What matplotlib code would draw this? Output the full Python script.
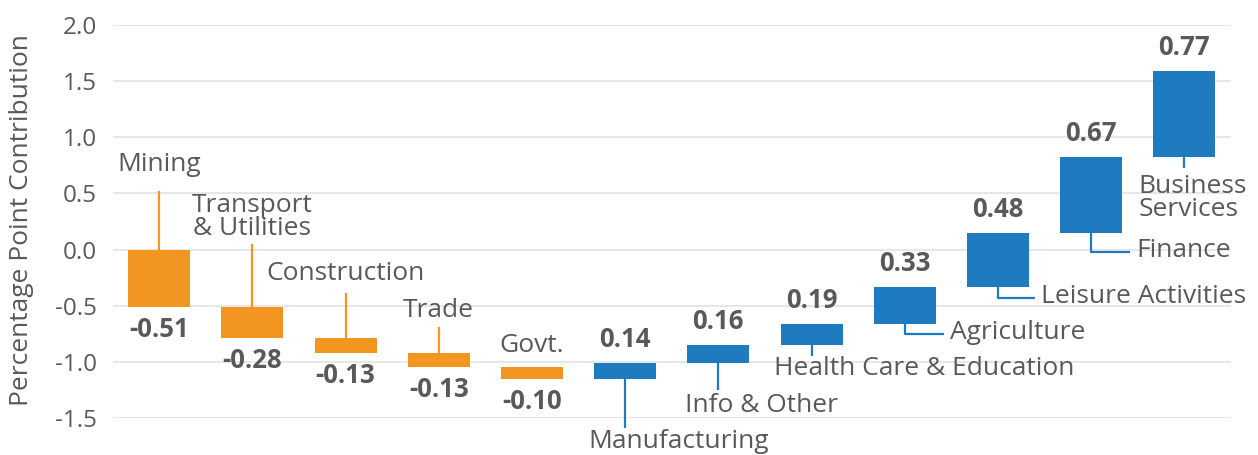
import matplotlib
matplotlib.use("Agg")
import matplotlib.pyplot as plt
import numpy as np

# ---- data ----
categories = ["Mining", "Transport\n& Utilities", "Construction", "Trade", "Govt.",
              "Manufacturing", "Info & Other", "Health Care & Education", "Agriculture",
              "Leisure Activities", "Finance", "Business\nServices"]
values = [-0.51, -0.28, -0.13, -0.13, -0.10, 0.14, 0.16, 0.19, 0.33, 0.48, 0.67, 0.77]
value_labels = ["-0.51", "-0.28", "-0.13", "-0.13", "-0.10", "0.14", "0.16", "0.19",
                "0.33", "0.48", "0.67", "0.77"]
yticks = [-1.5, -1.0, -0.5, 0.0, 0.5, 1.0, 1.5, 2.0]
ytick_labels = ["-1.5", "-1.0", "-0.5", "0.0", "0.5", "1.0", "1.5", "2.0"]
ylabel = "Percentage Point Contribution"

# ---- layout of category labels (annotation styling) ----
# (mode, leader end y, text x offset, text y, ha)
label_layout = [
    ("up", 0.52, 0.0, 0.76, "center"),
    ("up", 0.05, 0.0, 0.29, "center"),
    ("up", -0.39, 0.0, -0.21, "center"),
    ("up", -0.69, 0.0, -0.54, "center"),
    ("none", None, 0.0, -0.85, "center"),
    ("down", -1.59, -0.39, -1.71, "left"),
    ("down", -1.25, -0.36, -1.39, "left"),
    ("down", -0.95, -0.40, -1.06, "left"),
    ("elbow", -0.75, 0.48, -0.74, "left"),
    ("elbow", -0.43, 0.46, -0.42, "left"),
    ("elbow", -0.02, 0.48, -0.01, "left"),
    ("down", 0.73, -0.49, 0.46, "left"),
]

orange = "#F39621"
blue = "#1F7BBF"
text_gray = "#595959"
font = ["Open Sans", "DejaVu Sans"]

plt.rcParams["font.family"] = font

fig = plt.figure(figsize=(12.58, 4.55), dpi=100)
ax = fig.add_axes([112.5 / 1258, 1 - 418 / 455, (1231 - 112.5) / 1258, (418 - 25) / 455])

vals = np.array(values)
ends = np.cumsum(vals)
starts = ends - vals
bottoms = np.minimum(starts, ends)
heights = np.abs(vals)
colors = [orange if v < 0 else blue for v in vals]
x = np.arange(len(categories))
bw = 0.665

ax.bar(x, heights, bottom=bottoms, width=bw, color=colors, zorder=3)

for i, v in enumerate(vals):
    if v < 0:
        ax.text(x[i], bottoms[i] - 0.2, value_labels[i], ha="center", va="center",
                fontsize=18.5, fontweight="bold", color=text_gray, zorder=4)
    else:
        ax.text(x[i], bottoms[i] + heights[i] + 0.21, value_labels[i], ha="center", va="center",
                fontsize=18.5, fontweight="bold", color=text_gray, zorder=4)

for i, (mode, ly, dx, ty, ha) in enumerate(label_layout):
    c = colors[i]
    top = bottoms[i] + heights[i]
    bot = bottoms[i]
    if mode == "up":
        ax.plot([x[i], x[i]], [top, ly], color=c, lw=1.6, zorder=2, solid_capstyle="butt")
    elif mode == "down":
        ax.plot([x[i], x[i]], [bot, ly], color=c, lw=1.6, zorder=2, solid_capstyle="butt",
                clip_on=False)
    elif mode == "elbow":
        ax.plot([x[i], x[i], x[i] + dx - 0.06], [bot, ly, ly], color=c, lw=1.6, zorder=2,
                solid_capstyle="butt")
    ax.text(x[i] + dx, ty, categories[i], ha=ha, va="center", fontsize=19,
            color=text_gray, linespacing=0.9, zorder=4, clip_on=False)

ax.set_xlim(-0.5, 11.5)
ax.set_ylim(-1.5, 2.0)
ax.set_yticks(yticks)
ax.set_yticklabels(ytick_labels, fontsize=17.5, color=text_gray)
ax.set_xticks([])
ax.tick_params(axis="y", length=0, pad=11)
ax.grid(axis="y", color="#E3E3E3", lw=1.2, zorder=0)
ax.set_axisbelow(True)
for s in ax.spines.values():
    s.set_visible(False)

fig.text(22 / 1258, 1 - 220 / 455, ylabel, rotation=90, ha="center", va="center",
         fontsize=19, color=text_gray)

fig.savefig("out.png", dpi=100)
